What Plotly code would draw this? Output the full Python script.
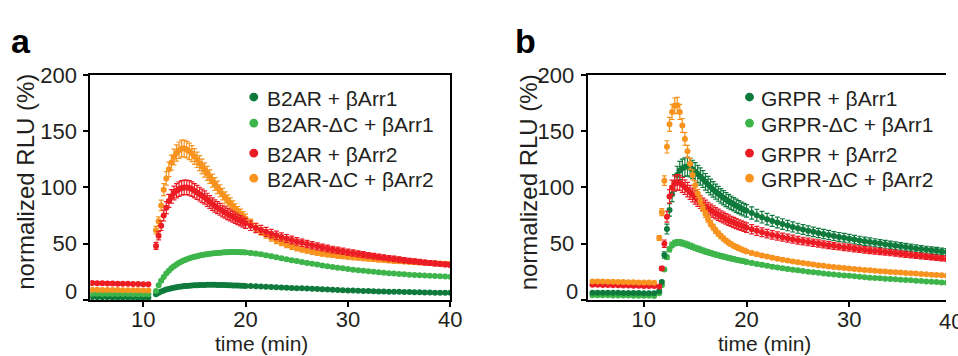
import plotly.graph_objects as go

W, H = 958, 356

# ---------------- data ----------------
t_a = [5, 5.5, 6, 6.5, 7, 7.5, 8, 8.5, 9, 9.5, 10, 10.5,
       11.25, 11.5, 11.75, 12, 12.25, 12.5, 12.75, 13, 13.25, 13.5, 13.75, 14,
       14.25, 14.5, 14.75, 15, 15.25, 15.5, 15.75, 16, 16.25, 16.5, 16.75, 17,
       17.25, 17.5, 17.75, 18, 18.25, 18.5, 18.75, 19, 19.25, 19.5, 19.75, 20,
       20.5, 21, 21.5, 22, 22.5, 23, 23.5, 24, 24.5, 25, 25.5, 26, 26.5, 27,
       27.5, 28, 28.5, 29, 29.5, 30, 30.5, 31, 31.5, 32, 32.5, 33, 33.5, 34,
       34.5, 35, 35.5, 36, 36.5, 37, 37.5, 38, 38.5, 39, 39.5, 40]

t_b = [5, 5.5, 6, 6.5, 7, 7.5, 8, 8.5, 9, 9.5, 10, 10.5, 11,
       11.5, 11.75, 12, 12.25, 12.5, 12.75, 13, 13.25, 13.5, 13.75, 14,
       14.25, 14.5, 14.75, 15, 15.25, 15.5, 15.75, 16, 16.25, 16.5, 16.75, 17,
       17.25, 17.5, 17.75, 18, 18.25, 18.5, 18.75, 19, 19.25, 19.5, 19.75, 20,
       20.5, 21, 21.5, 22, 22.5, 23, 23.5, 24, 24.5, 25, 25.5, 26, 26.5, 27,
       27.5, 28, 28.5, 29, 29.5, 30, 30.5, 31, 31.5, 32, 32.5, 33, 33.5, 34,
       34.5, 35, 35.5, 36, 36.5, 37, 37.5, 38, 38.5, 39, 39.5, 40]

# panel a
a_b2ar_arr1 = [2.5, 2.5, 2.4, 2.4, 2.3, 2.3, 2.2, 2.2, 2.1, 2.1, 2.0, 2.0,
               5, 6.5, 7.5, 8.5, 9.2, 9.8, 10.4, 10.9, 11.3, 11.7, 12, 12.3,
               12.5, 12.7, 12.9, 13, 13.1, 13.2, 13.3, 13.3, 13.4, 13.4, 13.4, 13.4,
               13.3, 13.3, 13.2, 13.2, 13.1, 13, 12.9, 12.9, 12.8, 12.7, 12.6, 12.5,
               12.3, 12.1, 11.9, 11.7, 11.5, 11.3, 11.1, 10.9, 10.7, 10.5, 10.3, 10.1,
               9.9, 9.7, 9.5, 9.3, 9.1, 8.9, 8.7, 8.5, 8.3, 8.2, 8.0, 7.9, 7.8, 7.6,
               7.5, 7.4, 7.3, 7.2, 7.1, 7.0, 6.9, 6.8, 6.7, 6.6, 6.5, 6.5, 6.4, 6.3]
a_b2ar_dc_arr1 = [5.5, 5.5, 5.4, 5.4, 5.3, 5.3, 5.2, 5.2, 5.1, 5.1, 5.0, 5.0,
                  8, 13, 17, 20.5, 23.5, 26, 28.2, 30, 31.6, 33, 34.2, 35.3,
                  36.2, 37, 37.7, 38.3, 38.9, 39.4, 39.9, 40.3, 40.7, 41, 41.3, 41.6,
                  41.8, 42, 42.2, 42.3, 42.4, 42.5, 42.5, 42.5, 42.5, 42.4, 42.3, 42.2,
                  41.8, 41.2, 40.5, 39.7, 38.9, 38, 37.1, 36.2, 35.3, 34.5, 33.7, 32.9,
                  32.1, 31.4, 30.7, 30, 29.3, 28.7, 28.1, 27.5, 26.9, 26.4, 25.9, 25.4,
                  25, 24.6, 24.2, 23.8, 23.4, 23.1, 22.8, 22.5, 22.2, 21.9, 21.7, 21.5,
                  21.3, 21.1, 20.9, 20.7]
a_b2ar_arr2 = [15, 14.9, 14.8, 14.7, 14.6, 14.5, 14.4, 14.3, 14.2, 14.1, 14.0, 13.9,
               48, 57, 66, 75, 82, 88, 92, 95, 97, 98.5, 99.5, 100,
               100, 99.5, 98.5, 97, 95.5, 94, 92.5, 91, 89, 87, 85.2, 83.5,
               82, 80.5, 79, 77.7, 76.4, 75.1, 73.9, 72.7, 71.5, 70.3, 69.2, 68.1,
               66, 64, 62.2, 60.5, 58.9, 57.4, 56, 54.6, 53.3, 52, 50.8, 49.7,
               48.6, 47.6, 46.6, 45.7, 44.8, 44, 43.2, 42.4, 41.7, 41, 40.3, 39.6,
               38.9, 38.3, 37.7, 37.1, 36.5, 35.9, 35.3, 34.8, 34.3, 33.8, 33.3, 32.8,
               32.4, 32, 31.6, 31.2]
a_b2ar_dc_arr2 = [9, 9, 8.9, 8.9, 8.8, 8.8, 8.7, 8.7, 8.6, 8.6, 8.5, 8.5,
                  62, 70, 84, 98, 108, 116, 122, 127, 130.5, 133, 134.5, 134.5,
                  133.5, 132, 130, 127.5, 124.5, 121.5, 118.5, 115.5, 112.5, 109.5, 106, 103,
                  100, 97, 94, 91, 88.5, 86, 83.5, 81, 78.7, 76.5, 74.3, 72.2,
                  68, 64.3, 61, 58, 55.3, 53, 51, 49.2, 47.6, 46.2, 45, 43.9,
                  42.9, 42, 41.2, 40.5, 39.9, 39.3, 38.8, 38.3, 37.8, 37.4, 37, 36.6,
                  36.2, 35.8, 35.4, 35, 34.7, 34.4, 34.1, 33.8, 33.5, 33.2, 33, 32.8,
                  32.6, 32.4, 32.2, 32]

# panel b
b_grpr_arr1 = [6.5, 6.5, 6.4, 6.4, 6.3, 6.3, 6.2, 6.2, 6.1, 6.1, 6.0, 6.0, 5.9,
               8, 16, 40, 63, 80, 94, 104, 111, 115, 117, 118,
               118.5, 117.5, 116, 114, 111.8, 109.6, 107.4, 105, 102.6, 100.3, 98.2, 96.2,
               94.3, 92.5, 90.8, 89.2, 87.7, 86.3, 85, 83.7, 82.5, 81.3, 80.2, 79.2,
               77.2, 75.3, 73.5, 71.8, 70.2, 68.8, 67.4, 66.1, 64.9, 63.7, 62.6, 61.5,
               60.5, 59.5, 58.6, 57.7, 56.8, 56, 55.2, 54.4, 53.6, 52.9, 52.2, 51.5,
               50.8, 50.1, 49.4, 48.8, 48.2, 47.6, 47, 46.4, 45.8, 45.2, 44.6, 44.1,
               43.6, 43.1, 42.6, 42.1]
b_grpr_dc_arr1 = [4.2, 4.2, 4.1, 4.1, 4.0, 4.0, 3.9, 3.9, 3.8, 3.8, 3.7, 3.7, 3.6,
                  6, 13, 27, 38, 45, 49, 50.5, 51, 51, 50.5, 49.8,
                  49, 48.1, 47.2, 46.3, 45.5, 44.7, 43.9, 43.1, 42.4, 41.7, 41, 40.3,
                  39.7, 39.1, 38.5, 37.9, 37.3, 36.8, 36.3, 35.8, 35.3, 34.8, 34.3, 33.8,
                  32.9, 32, 31.2, 30.4, 29.6, 28.9, 28.2, 27.5, 26.9, 26.3, 25.7, 25.1,
                  24.6, 24.1, 23.6, 23.1, 22.6, 22.2, 21.8, 21.4, 21, 20.6, 20.2, 19.8,
                  19.5, 19.2, 18.9, 18.6, 18.3, 18, 17.7, 17.4, 17.1, 16.8, 16.5, 16.2,
                  15.9, 15.6, 15.3, 15]
b_grpr_arr2 = [13.5, 13.4, 13.3, 13.2, 13.1, 13.0, 12.9, 12.8, 12.7, 12.6, 12.5, 12.4, 12.3,
               12, 28, 50, 74, 92, 100, 103.5, 104.5, 104, 102.3, 100.2,
               98, 95.6, 93.2, 91, 88.9, 86.9, 85, 83.2, 81.5, 79.9, 78.4, 77,
               75.7, 74.4, 73.2, 72, 70.9, 69.8, 68.8, 67.8, 66.9, 66, 65.1, 64.3,
               62.8, 61.4, 60.1, 58.9, 57.8, 56.8, 55.8, 54.9, 54, 53.1, 52.3, 51.5,
               50.8, 50.1, 49.4, 48.7, 48.1, 47.5, 46.9, 46.3, 45.7, 45.1, 44.5, 44,
               43.5, 43, 42.5, 42, 41.5, 41, 40.5, 40, 39.5, 39, 38.5, 38,
               37.5, 37.1, 36.7, 36.3]
b_grpr_dc_arr2 = [16.5, 16.4, 16.3, 16.2, 16.1, 16.0, 15.9, 15.8, 15.7, 15.6, 15.5, 15.4, 15.3,
                  55, 78, 106, 136, 156, 167, 172.5, 173, 167, 155, 143,
                  132, 121, 111, 102, 94.5, 88, 82, 76.5, 72, 68, 64.5, 61.5,
                  59, 56.7, 54.6, 52.7, 51, 49.5, 48.2, 47, 45.9, 44.9, 44, 43.1,
                  41.8, 40.6, 39.6, 38.6, 37.6, 36.7, 35.8, 35, 34.2, 33.5, 32.8, 32.1,
                  31.5, 30.9, 30.3, 29.8, 29.3, 28.8, 28.3, 27.9, 27.5, 27.1, 26.7, 26.3,
                  25.9, 25.6, 25.2, 24.9, 24.6, 24.3, 24, 23.7, 23.4, 23.1, 22.8, 22.5,
                  22.2, 21.9, 21.6, 21.3]

legend_a = ["B2AR + βArr1", "B2AR-ΔC + βArr1", "B2AR + βArr2", "B2AR-ΔC + βArr2"]
legend_b = ["GRPR + βArr1", "GRPR-ΔC + βArr1", "GRPR + βArr2", "GRPR-ΔC + βArr2"]
x_ticks = [10, 20, 30, 40]
y_ticks = [0, 50, 100, 150, 200]
y_ticktext = ["", "50", "100", "150", "200"]

# ---------------- style ----------------
DARK_GREEN = "#0e7a3c"
LIGHT_GREEN = "#3db54a"
RED = "#ec1c24"
ORANGE = "#f7931e"
TEXT = "#231f20"
FONT = "Liberation Sans, Arial, sans-serif"


def px_x(p):
    return p / W


def px_y(p):
    return 1 - p / H


fig = go.Figure()


def add_series(t, y, color, err, xa, ya):
    fig.add_trace(go.Scatter(
        x=t, y=y, mode="markers",
        marker=dict(size=6, color=color, line=dict(width=0)),
        error_y=dict(type="percent", value=err, color=color, thickness=1.2, width=2.5),
        xaxis=xa, yaxis=ya, showlegend=False, hoverinfo="skip"))


# panel a (red drawn over orange)
add_series(t_a, a_b2ar_arr1, DARK_GREEN, 5, "x", "y")
add_series(t_a, a_b2ar_dc_arr1, LIGHT_GREEN, 4, "x", "y")
add_series(t_a, a_b2ar_dc_arr2, ORANGE, 5.5, "x", "y")
add_series(t_a, a_b2ar_arr2, RED, 6.5, "x", "y")
# panel b
add_series(t_b, b_grpr_dc_arr1, LIGHT_GREEN, 5, "x2", "y2")
add_series(t_b, b_grpr_arr1, DARK_GREEN, 7, "x2", "y2")
add_series(t_b, b_grpr_arr2, RED, 6.5, "x2", "y2")
add_series(t_b, b_grpr_dc_arr2, ORANGE, 4, "x2", "y2")

axis_common = dict(
    ticks="outside", ticklen=5, tickwidth=2, tickcolor="black",
    showline=True, linewidth=2, linecolor="black",
    showgrid=False, zeroline=False,
    tickfont=dict(family=FONT, size=22, color=TEXT),
)

y_dom = [px_y(298), px_y(65)]

fig.update_layout(
    width=W, height=H,
    margin=dict(l=0, r=0, t=0, b=0),
    paper_bgcolor="white", plot_bgcolor="white",
    font=dict(family=FONT, color=TEXT),
    showlegend=False,
    xaxis=dict(domain=[px_x(91.5), px_x(456)], range=[4.83, 40], tickvals=x_ticks,
               mirror=True, anchor="y", ticklabelstandoff=-6, **axis_common),
    yaxis=dict(domain=y_dom, range=[0, 200], tickvals=y_ticks, ticktext=y_ticktext,
               mirror=True, anchor="x", ticklabelstandoff=2, **axis_common),
    xaxis2=dict(domain=[px_x(595), 1], range=[4.52, 39.42], tickvals=x_ticks,
                mirror=True, anchor="y2", ticklabelstandoff=-6, **axis_common),
    yaxis2=dict(domain=y_dom, range=[0, 200], tickvals=y_ticks, ticktext=y_ticktext,
                mirror=False, anchor="x2", ticklabelstandoff=2, **axis_common),
)

ann = []
shapes = []
# legends: coloured dot + label, rows as in the reference
colors = [DARK_GREEN, LIGHT_GREEN, RED, ORANGE]
rows = [88, 115, 146, 172]
for names, dot_x, text_x in ((legend_a, 257, 268), (legend_b, 759, 769)):
    for name, c, ry in zip(names, colors, rows):
        shapes.append(dict(type="circle", xref="paper", yref="paper",
                           x0=px_x(dot_x - 4.5), x1=px_x(dot_x + 4.5),
                           y0=px_y(ry + 4.5), y1=px_y(ry - 4.5),
                           fillcolor=c, line=dict(width=0)))
        ann.append(dict(text=name, x=px_x(text_x), y=px_y(ry + 1), xref="paper", yref="paper",
                        xanchor="left", yanchor="middle", showarrow=False,
                        font=dict(family=FONT, size=21, color=TEXT)))
# zero labels (drawn slightly raised, as in the reference)
for xr in (80, 587):
    ann.append(dict(text="0", x=px_x(xr), y=px_y(289), xref="paper", yref="paper",
                    xanchor="right", yanchor="middle", showarrow=False,
                    font=dict(family=FONT, size=22, color=TEXT)))
# cut-off "40" of panel b (runs past the right edge, as in the reference)
ann.append(dict(text="40", x=px_x(949), y=px_y(320), xref="paper", yref="paper",
                xanchor="left", yanchor="middle", showarrow=False,
                font=dict(family=FONT, size=22, color=TEXT)))
# y titles
for xc in (25, 535):
    ann.append(dict(text="normalized RLU (%)", x=px_x(xc), y=px_y(176), xref="paper", yref="paper",
                    xanchor="center", yanchor="middle", showarrow=False, textangle=-90,
                    font=dict(family=FONT, size=24, color=TEXT)))
# x titles
for xc in (265, 774):
    ann.append(dict(text="time (min)", x=px_x(xc), y=px_y(343), xref="paper", yref="paper",
                    xanchor="center", yanchor="middle", showarrow=False,
                    font=dict(family=FONT, size=21, color=TEXT)))
# panel letters
for letter, xc in (("a", 21), ("b", 532)):
    ann.append(dict(text="<b>%s</b>" % letter, x=px_x(xc), y=px_y(30), xref="paper", yref="paper",
                    xanchor="center", yanchor="middle", showarrow=False,
                    font=dict(family=FONT, size=34, color="black")))
fig.update_layout(annotations=ann, shapes=shapes)

fig.write_html("out.html", config={"displayModeBar": False},
               post_script="document.body.style.margin='0px';")
